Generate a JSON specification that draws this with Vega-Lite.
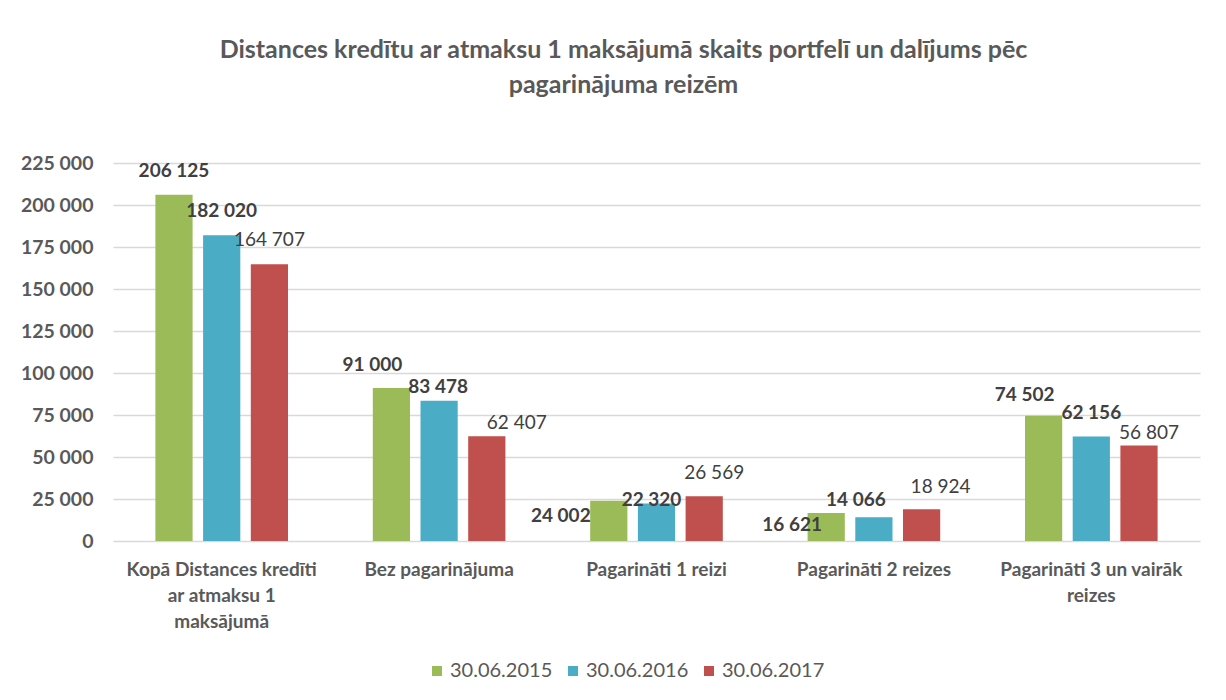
{
  "$schema": "https://vega.github.io/schema/vega-lite/v6.json",
  "width": 1087,
  "height": 378,
  "autosize": {"type": "none"},
  "padding": {"left": 113, "top": 163, "right": 26, "bottom": 159},
  "background": "white",
  "title": {
    "text": ["Distances kredītu ar atmaksu 1 maksājumā skaits portfelī  un dalījums pēc", "pagarinājuma reizēm"],
    "font": "Lato",
    "fontSize": 25,
    "fontWeight": "bold",
    "color": "#595959",
    "lineHeight": 35,
    "offset": 55,
    "dx": -33,
    "anchor": "middle"
  },
  "data": {
    "values": [
      {"category": "Kopā Distances kredīti ar atmaksu 1 maksājumā", "series": "30.06.2015", "value": 206125},
      {"category": "Kopā Distances kredīti ar atmaksu 1 maksājumā", "series": "30.06.2016", "value": 182020},
      {"category": "Kopā Distances kredīti ar atmaksu 1 maksājumā", "series": "30.06.2017", "value": 164707},
      {"category": "Bez pagarinājuma", "series": "30.06.2015", "value": 91000},
      {"category": "Bez pagarinājuma", "series": "30.06.2016", "value": 83478},
      {"category": "Bez pagarinājuma", "series": "30.06.2017", "value": 62407},
      {"category": "Pagarināti 1 reizi", "series": "30.06.2015", "value": 24002},
      {"category": "Pagarināti 1 reizi", "series": "30.06.2016", "value": 22320},
      {"category": "Pagarināti 1 reizi", "series": "30.06.2017", "value": 26569},
      {"category": "Pagarināti 2 reizes", "series": "30.06.2015", "value": 16621},
      {"category": "Pagarināti 2 reizes", "series": "30.06.2016", "value": 14066},
      {"category": "Pagarināti 2 reizes", "series": "30.06.2017", "value": 18924},
      {"category": "Pagarināti 3 un vairāk reizes", "series": "30.06.2015", "value": 74502},
      {"category": "Pagarināti 3 un vairāk reizes", "series": "30.06.2016", "value": 62156},
      {"category": "Pagarināti 3 un vairāk reizes", "series": "30.06.2017", "value": 56807}
    ]
  },
  "encoding": {
    "x": {
      "field": "category",
      "type": "nominal",
      "sort": null,
      "scale": {"paddingInner": 0.39, "paddingOuter": 0.195},
      "axis": {
        "title": null,
        "labelAngle": 0,
        "ticks": false,
        "domain": false,
        "labelFont": "Lato",
        "labelFontSize": 19,
        "labelFontWeight": "bold",
        "labelColor": "#595959",
        "labelPadding": 19,
        "labelLineHeight": 26,
        "labelLimit": 300,
        "labelExpr": "datum.label == 'Kopā Distances kredīti ar atmaksu 1 maksājumā' ? ['Kopā Distances kredīti', 'ar atmaksu 1', 'maksājumā'] : datum.label == 'Pagarināti 3 un vairāk reizes' ? ['Pagarināti 3 un vairāk', 'reizes'] : datum.label"
      }
    },
    "xOffset": {
      "field": "series",
      "type": "nominal",
      "scale": {"paddingInner": 0.22, "paddingOuter": 0}
    },
    "y": {
      "field": "value",
      "type": "quantitative",
      "scale": {"domain": [0, 225000], "nice": false},
      "axis": {
        "title": null,
        "values": [0, 25000, 50000, 75000, 100000, 125000, 150000, 175000, 200000, 225000],
        "ticks": false,
        "domain": false,
        "grid": true,
        "gridColor": "#d9d9d9",
        "gridWidth": 1.5,
        "labelFont": "Lato",
        "labelFontSize": 19.5,
        "labelFontWeight": "bold",
        "labelColor": "#595959",
        "labelPadding": 20,
        "labelExpr": "replace(format(datum.value, ','), ',', ' ')"
      }
    }
  },
  "layer": [
    {
      "mark": {"type": "bar"},
      "encoding": {
        "color": {
          "field": "series",
          "type": "nominal",
          "scale": {"domain": ["30.06.2015", "30.06.2016", "30.06.2017"], "range": ["#9BBB59", "#4BACC6", "#C0504D"]},
          "legend": {
            "title": null,
            "orient": "none",
            "direction": "horizontal",
            "legendX": 314,
            "legendY": 498,
            "symbolType": "square",
            "symbolSize": 100,
            "symbolStrokeWidth": 0,
            "labelFont": "Lato",
            "labelFontSize": 20,
            "labelColor": "#595959",
            "labelOffset": 3,
            "columnPadding": 10
          }
        }
      }
    },
    {
      "mark": {
        "type": "text",
        "font": "Lato",
        "fontSize": 19,
        "color": "#404040",
        "align": "center",
        "baseline": "middle",
        "text": {"expr": "replace(format(datum.value, ','), ',', ' ')"},
        "fontWeight": {"expr": "datum.series == '30.06.2017' ? 'normal' : 'bold'"},
        "dx": {"expr": "({'206125': 0, '91000': -19, '83478': -1, '62407': 30, '24002': -48, '22320': -5, '26569': 10, '16621': -34, '14066': -18, '18924': 19, '74502': -19, '62156': 0, '56807': 10})[datum.value] || 0"},
        "dy": {"expr": "-24 + (({'91000': 1, '83478': 10, '62407': 11, '24002': 39, '22320': 20, '26569': 1, '16621': 36, '14066': 7, '18924': 2, '74502': 3, '56807': 11})[datum.value] || 0)"}
      },
      "encoding": {}
    }
  ],
  "config": {
    "view": {"stroke": null},
    "font": "Lato"
  }
}
